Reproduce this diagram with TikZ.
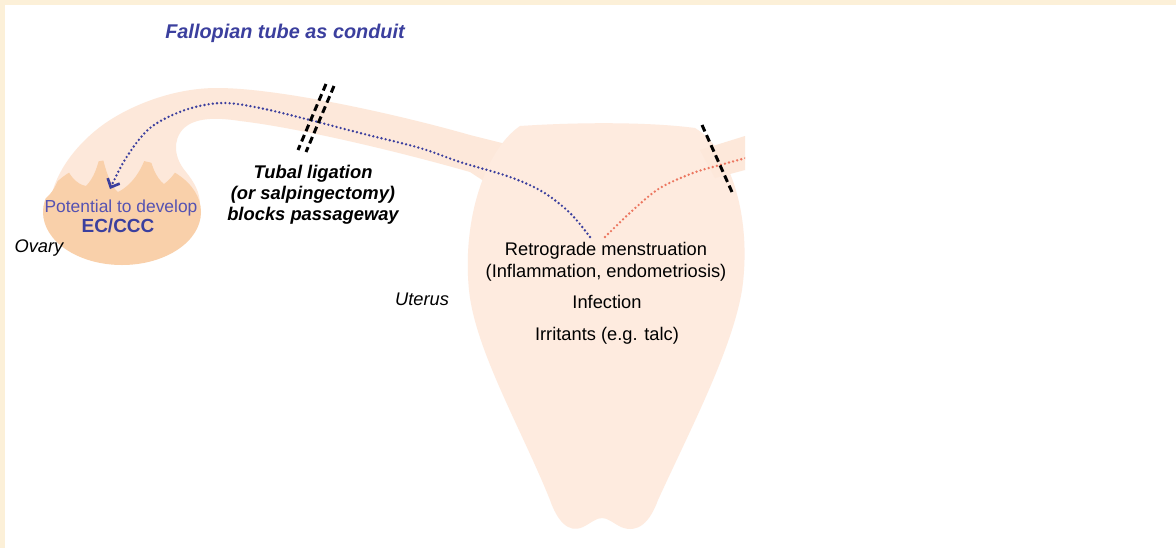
\documentclass[tikz,border=0pt]{standalone}
\usepackage{fontspec}
\setmainfont{Liberation Sans}
\usetikzlibrary{arrows.meta}

\definecolor{frame}{HTML}{FCF0D8}
\definecolor{tube}{HTML}{FDE8DA}
\definecolor{ovarybody}{HTML}{F9D0AA}
\definecolor{uterusfill}{HTML}{FEEBDF}
\definecolor{conduit}{HTML}{3B3F9E}
\definecolor{devtext}{HTML}{5552B2}
\definecolor{menses}{HTML}{EC7660}

\begin{document}
\begin{tikzpicture}[x=0.02cm, y=-0.02cm, font=\fontsize{10.4}{12.5}\selectfont]
    \tikzset{dots/.style={line width=1.5pt, line cap=round, dash pattern=on 0pt off 2.4pt},
             cutline/.style={line width=1.7pt, dash pattern=on 4pt off 2.3pt},
             organtext/.style={inner sep=0pt, anchor=base},
             boldit/.style={organtext, font=\fontsize{10.45}{12.5}\selectfont\bfseries\itshape}}

    % Frame
    \fill[frame] (0,0) rectangle (1176,548);
    \fill[white] (5,5) rectangle (1176,548);
    \useasboundingbox (0,0) rectangle (1176,548);

    \begin{scope}
    \clip (5,5) rectangle (745,548);

    % Left tube with the fimbrial funnel over the ovary
    \fill[tube] (50,205)
        .. controls (52,180) and (70,150) .. (100,127)
        .. controls (125,108) and (170,88) .. (217,88)
        .. controls (280,88) and (400,115) .. (470,135)
        -- (530,150) -- (505,195) -- (470,172)
        .. controls (400,152) and (300,128) .. (240,121)
        .. controls (215,117) and (195,118) .. (184,128)
        .. controls (172,140) and (174,158) .. (186,172)
        .. controls (194,182) and (200,192) .. (200,205) -- cycle;

    % Ovary, flames rising into the funnel
    \begin{scope}
    \clip (30,300) -- (30,205) -- (46,198)
        .. controls (56,190) and (60,176) .. (64,160)
        .. controls (68,175) and (76,184) .. (86,186)
        .. controls (94,178) and (98,166) .. (101,151)
        .. controls (105,168) and (110,186) .. (118,192)
        .. controls (134,184) and (144,166) .. (148,149)
        .. controls (151,165) and (156,178) .. (164,184)
        .. controls (172,178) and (178,170) .. (182,158)
        .. controls (185,172) and (190,184) .. (200,190)
        -- (215,205) -- (215,300) -- cycle;
    \fill[ovarybody] (122,212) ellipse [x radius=79, y radius=53];
    \end{scope}

    % Uterus
    \fill[uterusfill] (520,126)
        .. controls (580,122) and (650,122) .. (695,128)
        .. controls (732,150) and (752,220) .. (742,290)
        .. controls (732,350) and (690,430) .. (658,500)
        .. controls (650,522) and (638,534) .. (621,527)
        .. controls (613,523) and (608,518) .. (602,518)
        .. controls (596,518) and (591,523) .. (583,527)
        .. controls (568,534) and (557,520) .. (550,500)
        .. controls (522,430) and (475,350) .. (469,290)
        .. controls (462,220) and (485,150) .. (520,126) -- cycle;

    % Right tube
    \fill[tube] (700,150) -- (745,136) -- (745,170) -- (715,178) -- cycle;

    % Ends of the two routes
    \coordinate (retro_in) at (590,237);
    \coordinate (ov_in) at (110,189);
    \coordinate (men_in) at (605,237);
    \coordinate (men_out) at (746,158);

    % Retrograde flow back to the ovary
    \draw[dots, conduit, -{Straight Barb[length=4pt, width=7.5pt, line width=1.5pt]}]
        plot[smooth, tension=0.55] coordinates {(retro_in) (570,213) (543,192) (510,177)
            (460,162) (420,148) (360,133) (310,120) (260,108) (222,103) (185,110)
            (150,128) (126,158) (ov_in)};

    % Menstrual flow on the right
    \draw[dots, menses] plot[smooth, tension=0.55] coordinates {(men_in) (633,210)
        (660,188) (693,173) (720,165) (men_out)};
    \end{scope}

    % Ligation marks
    \coordinate (cutA_top) at (326,84);
    \coordinate (cutA_bot) at (298,150);
    \coordinate (cutB_top) at (334,86);
    \coordinate (cutB_bot) at (306,152);
    \coordinate (cutC_top) at (702,125);
    \coordinate (cutC_bot) at (732,192);
    \draw[cutline] (cutA_top) -- (cutA_bot);
    \draw[cutline] (cutB_top) -- (cutB_bot);
    \draw[cutline] (cutC_top) -- (cutC_bot);

    % Labels
    \node[organtext, conduit, font=\fontsize{11.3}{13}\selectfont\bfseries\itshape] (title) at (285,38) {Fallopian tube as conduit};

    \node[boldit] (lig1) at (313,178) {Tubal ligation};
    \node[boldit] (lig2) at (313,199) {(or salpingectomy)};
    \node[boldit] (lig3) at (313,220) {blocks passageway};

    \node[organtext, devtext, font=\fontsize{9.9}{12}\selectfont] (develop) at (121,212) {Potential to develop};
    \node[organtext, conduit, font=\fontsize{10.8}{12}\selectfont\bfseries] (eccc) at (118,232) {EC/CCC};
    \node[organtext, font=\fontsize{10.4}{12}\selectfont\itshape] (ovary) at (39,252) {Ovary};
    \node[organtext, font=\fontsize{10.4}{12}\selectfont\itshape] (uterus) at (422,305) {Uterus};

    \node[organtext] (retro) at (606,255) {Retrograde menstruation};
    \node[organtext] (inflam) at (606,277) {(Inflammation, endometriosis)};
    \node[organtext] (infect) at (607,308) {Infection};
    \node[organtext] (irritant) at (607,340) {Irritants (e.g. talc)};
\end{tikzpicture}
\end{document}
